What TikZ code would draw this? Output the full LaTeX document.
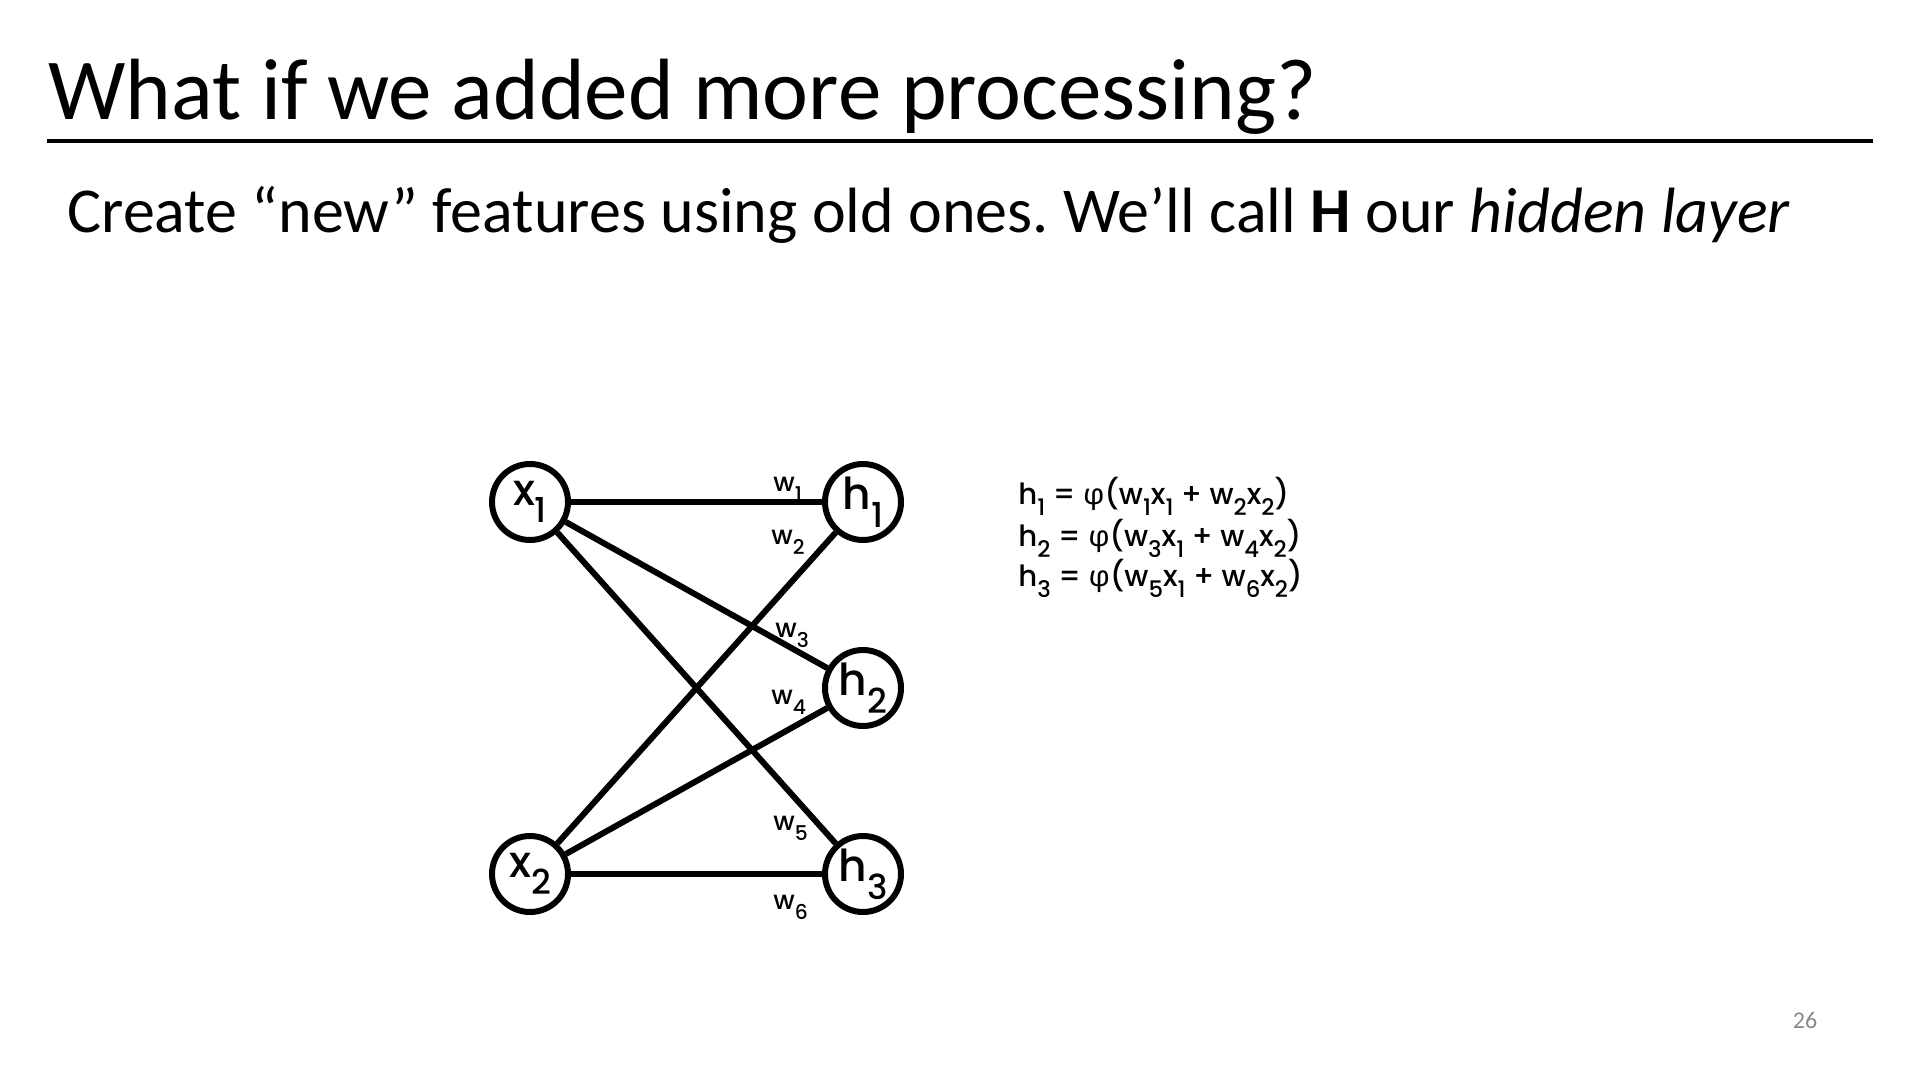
\documentclass[tikz,border=0pt]{standalone}
\usepackage{fontspec}
\setmainfont{Carlito}
\newfontfamily\netfont{Poppins Medium}
\newfontfamily\grkfont{Fira Sans}
% lowered, reduced digit used as a subscript in the network labels
\newcommand\lo[1]{\raisebox{-.4em}{\scalebox{.78}{#1}}}
\definecolor{pagegray}{HTML}{8A8A8A}
\begin{document}
\frenchspacing
\begin{tikzpicture}[x=0.5pt,y=-0.5pt,
  unit/.style={circle,draw=black,line width=3pt,minimum size=38pt,inner sep=0pt,
    font=\netfont\fontsize{22}{26}\selectfont},
  link/.style={line width=3pt,black},
  wlabel/.style={anchor=base west,font=\netfont\fontsize{13}{15}\selectfont,inner sep=0pt},
  eqn/.style={anchor=base west,inner sep=0pt,font=\netfont\fontsize{14.6}{18}\selectfont}]
\fill[white] (0,0) rectangle (1920,1080);
\useasboundingbox (0,0) rectangle (1920,1080);

% heading and rule
\node[anchor=base west,inner sep=0pt,font=\fontsize{43.5}{52}\selectfont] (title) at (48,120) {What if we added more processing?};
\draw[line width=2pt] (47,141) -- (1873,141);
\node[anchor=base west,inner sep=0pt,font=\fontsize{32}{38}\selectfont] (sub) at (67,233)
  {Create “new” features using old ones. We’ll call \textbf{H} our \textit{hidden layer}};

% network units
\node[unit] (x1) at (530,502) {x\lo{1}};
\node[unit] (x2) at (530,874) {x\lo{2}};
\node[unit] (h1) at (863,502) {h\lo{1}};
\node[unit] (h2) at (863,688) {h\lo{2}};
\node[unit] (h3) at (863,874) {h\lo{3}};

% connections
\draw[link] (x1) -- (h1);
\draw[link] (x1) -- (h2);
\draw[link] (x1) -- (h3);
\draw[link] (x2) -- (h1);
\draw[link] (x2) -- (h2);
\draw[link] (x2) -- (h3);

% weight labels
\node[wlabel] (w1) at (773,491) {w\lo{1}};
\node[wlabel] (w2) at (771,544) {w\lo{2}};
\node[wlabel] (w3) at (775,637) {w\lo{3}};
\node[wlabel] (w4) at (771,704) {w\lo{4}};
\node[wlabel] (w5) at (773,830) {w\lo{5}};
\node[wlabel] (w6) at (773,909) {w\lo{6}};

% equations for the hidden units
\node[eqn] (e1) at (1018,504) {h\lo{1} = {\grkfont φ}(w\lo{1}x\lo{1} + w\lo{2}x\lo{2})};
\node[eqn] (e2) at (1018,546) {h\lo{2} = {\grkfont φ}(w\lo{3}x\lo{1} + w\lo{4}x\lo{2})};
\node[eqn] (e3) at (1018,586) {h\lo{3} = {\grkfont φ}(w\lo{5}x\lo{1} + w\lo{6}x\lo{2})};

% page number
\node[anchor=base,inner sep=0pt,text=pagegray,font=\fontsize{12}{14}\selectfont] (num) at (1805,1028) {26};
\end{tikzpicture}
\end{document}
